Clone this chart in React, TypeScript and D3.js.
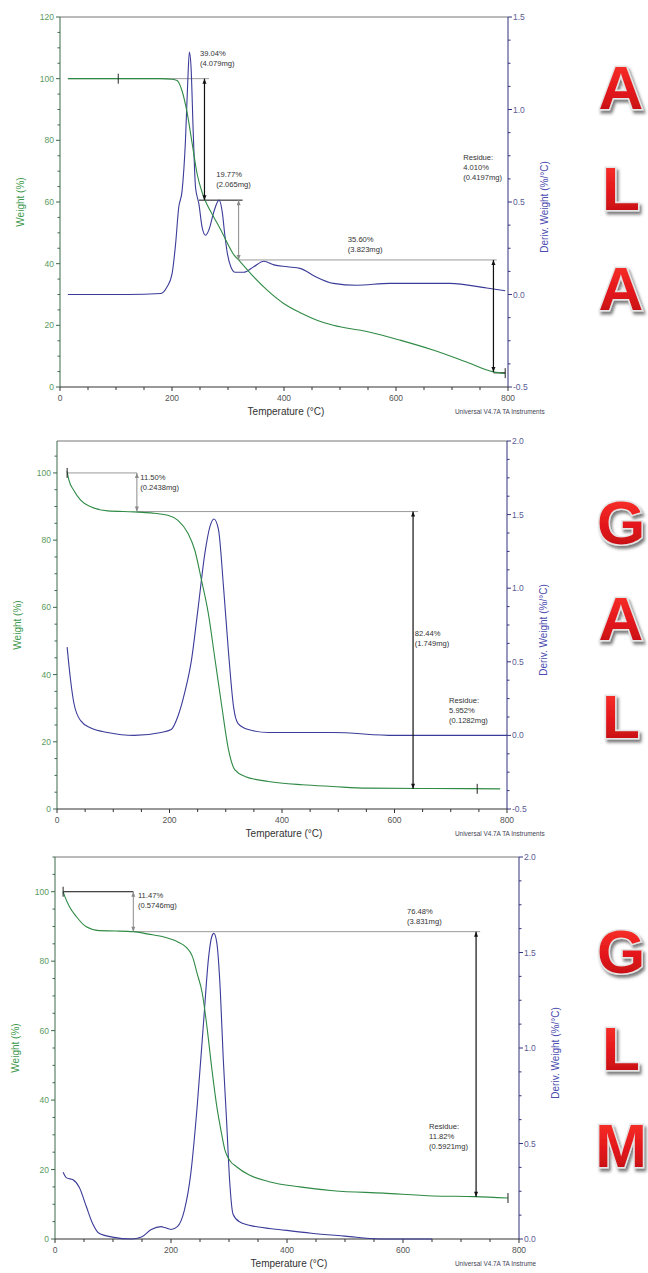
import * as d3 from "d3";

type Pt = [number, number];

// ---- ALA: weight (%) and derivative (%/°C) vs temperature (°C)
const alaWeight: Pt[] = [
  [14, 100], [60, 100], [120, 100], [180, 100], [200, 99.8], [209, 99.4], [218, 96], [227, 89],
  [236, 79], [245, 69], [254, 63], [263, 59], [275, 55], [287, 51], [299, 46.6], [310, 43],
  [322, 40.6], [346, 35.7], [370, 31.4], [400, 27], [430, 24], [460, 21.6], [488, 20],
  [548, 18], [607, 15.2], [666, 12], [726, 8.1], [774, 4.9], [795, 4.4],
];
const alaDeriv: Pt[] = [
  [14, 0], [60, 0], [120, 0], [180, 0.005], [191, 0.04], [200, 0.11], [206, 0.26], [212, 0.47],
  [218, 0.56], [224, 0.83], [228, 1.14], [231, 1.31], [234, 1.23], [238, 0.87], [242, 0.58],
  [248, 0.49], [254, 0.36], [260, 0.32], [266, 0.35], [275, 0.45], [284, 0.51], [290, 0.44],
  [294, 0.33], [299, 0.22], [305, 0.15], [313, 0.12], [328, 0.12], [346, 0.15], [364, 0.18],
  [382, 0.16], [406, 0.15], [430, 0.14], [454, 0.1], [488, 0.06], [530, 0.05], [589, 0.06],
  [696, 0.06], [762, 0.035], [795, 0.02],
];

// ---- GAL
const galWeight: Pt[] = [
  [18, 100.5], [21, 98], [30, 94.8], [42, 91.9], [60, 89.9], [90, 88.7], [137, 88.4], [167, 88.1],
  [197, 87.4], [215, 85.9], [233, 82], [245, 77], [257, 68], [269, 58.2], [281, 44.4], [293, 30.5],
  [305, 17.6], [316, 11.7], [334, 9.7], [376, 8.2], [436, 7.2], [490, 6.7], [551, 6.2], [669, 6.1],
  [788, 6.0],
];
const galDeriv: Pt[] = [
  [18, 0.6], [24, 0.38], [30, 0.22], [42, 0.1], [60, 0.05], [90, 0.02], [137, 0], [185, 0.02],
  [203, 0.04], [215, 0.13], [227, 0.29], [239, 0.51], [251, 0.87], [263, 1.24], [272, 1.42],
  [279, 1.47], [287, 1.4], [296, 1.01], [305, 0.56], [314, 0.19], [322, 0.08], [340, 0.04],
  [376, 0.02], [490, 0.02], [600, 0], [800, 0],
];

// ---- GLM
const glmWeight: Pt[] = [
  [14, 100], [17, 98.6], [25, 95.7], [37, 92.8], [54, 89.9], [76, 88.8], [104, 88.7], [135, 88.5],
  [161, 87.8], [189, 86.9], [211, 85.6], [225, 84.2], [237, 81.3], [245, 76.5], [254, 70.7],
  [262, 61.1], [270, 49.6], [279, 38.1], [286, 31.4], [293, 25.6], [301, 22.7], [313, 20.8],
  [335, 18.4], [369, 16.5], [422, 15], [480, 13.9], [566, 13.2], [652, 12.4], [724, 12.2], [781, 11.8],
];
const glmDeriv: Pt[] = [
  [14, 0.35], [20, 0.32], [31, 0.31], [42, 0.27], [54, 0.17], [65, 0.08], [76, 0.03], [99, 0.01],
  [132, 0], [149, 0.01], [166, 0.05], [183, 0.065], [189, 0.06], [200, 0.05], [211, 0.065],
  [223, 0.15], [234, 0.34], [245, 0.69], [256, 1.13], [265, 1.48], [270, 1.58], [274, 1.6],
  [279, 1.55], [285, 1.3], [290, 0.95], [296, 0.61], [301, 0.31], [307, 0.13], [318, 0.09],
  [346, 0.065], [386, 0.05], [442, 0.03], [500, 0.015], [560, 0], [650, 0],
];

// annotation values: levels [t0, t1, weight, dark], arrows [t, wTop, wBottom, dark], marks [t, weight]
type Level = [number, number, number, boolean];
type Arrow = [number, number, number, boolean];
type Note = { t: number; w: number; lines: string[] };

const alaLevels: Level[] = [[14, 266, 100, false], [248, 326, 60.6, true], [319, 780, 41.2, false], [774, 795, 4.6, true]];
const alaArrows: Arrow[] = [[258, 100, 60.6, true], [319, 60.6, 41.2, false], [774, 41.2, 4.9, true]];
const alaMarks: Pt[] = [[104, 100], [795, 4.5]];
const alaNotes: Note[] = [
  { t: 250, w: 107.5, lines: ["39.04%", "(4.079mg)"] },
  { t: 279, w: 68, lines: ["19.77%", "(2.065mg)"] },
  { t: 514, w: 47, lines: ["35.60%", "(3.823mg)"] },
  { t: 720, w: 73.5, lines: ["Residue:", "4.010%", "(0.4197mg)"] },
];

const galLevels: Level[] = [[18, 142, 100, false], [142, 642, 88.5, false]];
const galArrows: Arrow[] = [[142, 100, 88.5, false], [633, 88.5, 6.0, true]];
const galMarks: Pt[] = [[18, 100], [747, 6.0]];
const galNotes: Note[] = [
  { t: 148, w: 98, lines: ["11.50%", "(0.2438mg)"] },
  { t: 636, w: 51.5, lines: ["82.44%", "(1.749mg)"] },
  { t: 697, w: 31.5, lines: ["Residue:", "5.952%", "(0.1282mg)"] },
];

const glmLevels: Level[] = [[14, 135, 100, true], [135, 733, 88.5, false]];
const glmArrows: Arrow[] = [[135, 100, 88.5, false], [726, 88.5, 12.2, true]];
const glmMarks: Pt[] = [[14, 100], [781, 11.8]];
const glmNotes: Note[] = [
  { t: 143, w: 98.2, lines: ["11.47%", "(0.5746mg)"] },
  { t: 607, w: 93.5, lines: ["76.48%", "(3.831mg)"] },
  { t: 645, w: 31.6, lines: ["Residue:", "11.82%", "(0.5921mg)"] },
];

const tempTicks = [0, 200, 400, 600, 800];
const weightTicksA = [0, 20, 40, 60, 80, 100, 120];
const weightTicksB = [0, 20, 40, 60, 80, 100];
const derivTicksA = [-0.5, 0, 0.5, 1.0, 1.5];
const derivTicksB = [-0.5, 0, 0.5, 1.0, 1.5, 2.0];
const derivTicksC = [0, 0.5, 1.0, 1.5, 2.0];

const GREEN = "#2f8a45";
const NAVY = "#3b3b99";
const FONT = "'Liberation Sans', Arial, sans-serif";

type PanelProps = {
  left: number; right: number; top: number; bottom: number;
  wMax: number; wTicks: number[];
  dMin: number; dMax: number; dTicks: number[];
  weight: Pt[]; deriv: Pt[];
  levels: Level[]; arrows: Arrow[]; marks: Pt[]; notes: Note[];
  letters: string[]; letterY: number[];
  footer: string;
};

function Panel(p: PanelProps) {
  const x = d3.scaleLinear().domain([0, 800]).range([p.left, p.right]);
  const yw = d3.scaleLinear().domain([0, p.wMax]).range([p.bottom, p.top]);
  const yd = d3.scaleLinear().domain([p.dMin, p.dMax]).range([p.bottom, p.top]);
  const wLine = d3.line<Pt>().x(d => x(d[0])).y(d => yw(d[1])).curve(d3.curveMonotoneX);
  const dLine = d3.line<Pt>().x(d => x(d[0])).y(d => yd(d[1])).curve(d3.curveMonotoneX);

  const wMinor = d3.range(0, p.wMax + 0.01, 5);
  const tMinor = d3.range(0, 801, 50);
  const dMinor = d3.range(p.dMin, p.dMax + 0.001, 0.125);
  const midY = (p.top + p.bottom) / 2;

  return (
    <g fontFamily={FONT}>
      {/* frame */}
      <line x1={p.left} x2={p.right} y1={p.top} y2={p.top} stroke="#777" strokeWidth={1} />
      <line x1={p.left} x2={p.left} y1={p.top} y2={p.bottom} stroke="#3d6b4a" strokeWidth={1} />
      <line x1={p.right} x2={p.right} y1={p.top} y2={p.bottom} stroke="#33337f" strokeWidth={1} />
      <line x1={p.left} x2={p.right} y1={p.bottom} y2={p.bottom} stroke="#333" strokeWidth={1} />

      {/* left axis */}
      {wMinor.map(v => (
        <line key={"wm" + v} x1={p.left - (v % 20 === 0 ? 4 : 2.5)} x2={p.left} y1={yw(v)} y2={yw(v)} stroke="#3d6b4a" />
      ))}
      {p.wTicks.map(v => (
        <text key={"wt" + v} x={p.left - 6} y={yw(v) + 3} fontSize={8.5} textAnchor="end" fill="#5a9a62">{v}</text>
      ))}
      <text transform={`translate(${p.left - 36},${midY}) rotate(-90)`} fontSize={10} textAnchor="middle" fill="#3f9a4f">Weight (%)</text>

      {/* right axis */}
      {dMinor.map((v, i) => (
        <line key={"dm" + i} x1={p.right} x2={p.right + (i % 4 === 0 ? 4 : 2.5)} y1={yd(v)} y2={yd(v)} stroke="#33337f" />
      ))}
      {p.dTicks.map(v => (
        <text key={"dt" + v} x={p.right + 5} y={yd(v) + 3} fontSize={8.5} fill="#5a5a96">{v.toFixed(1)}</text>
      ))}
      <text transform={`translate(${p.right + 40},${midY + 5}) rotate(-90)`} fontSize={10} textAnchor="middle" fill="#4b4bb0">Deriv. Weight (%/°C)</text>

      {/* bottom axis */}
      {tMinor.map(v => (
        <line key={"tm" + v} x1={x(v)} x2={x(v)} y1={p.bottom} y2={p.bottom + (v % 200 === 0 ? 4 : 3)} stroke="#333" />
      ))}
      {tempTicks.map(v => (
        <text key={"tt" + v} x={x(v)} y={p.bottom + 14} fontSize={8.5} textAnchor="middle" fill="#555">{v}</text>
      ))}
      <text x={(p.left + p.right) / 2 + 2} y={p.bottom + 28} fontSize={10} textAnchor="middle" fill="#333">Temperature (°C)</text>
      <text x={455} y={p.bottom + 27} fontSize={6.4} fill="#445">{p.footer}</text>

      {/* annotation levels */}
      {p.levels.map((l, i) => (
        <line key={"lv" + i} x1={x(l[0])} x2={x(l[1])} y1={yw(l[2])} y2={yw(l[2])} stroke={l[3] ? "#111" : "#9a9a9a"} strokeWidth={1} />
      ))}

      {/* curves */}
      <path d={dLine(p.deriv) || ""} fill="none" stroke={NAVY} strokeWidth={1.1} />
      <path d={wLine(p.weight) || ""} fill="none" stroke={GREEN} strokeWidth={1.1} />

      {/* arrows */}
      {p.arrows.map((a, i) => {
        const ax = x(a[0]);
        const y1 = yw(a[1]);
        const y2 = yw(a[2]);
        const c = a[3] ? "#111" : "#8a8a8a";
        return (
          <g key={"ar" + i}>
            <line x1={ax} x2={ax} y1={y1} y2={y2} stroke={c} strokeWidth={a[3] ? 1.2 : 1} />
            <path d={`M${ax},${y1} l-2,5 l4,0 z`} fill={c} />
            <path d={`M${ax},${y2} l-2,-5 l4,0 z`} fill={c} />
          </g>
        );
      })}
      {p.marks.map((m, i) => (
        <line key={"mk" + i} x1={x(m[0])} x2={x(m[0])} y1={yw(m[1]) - 5} y2={yw(m[1]) + 5} stroke="#222" strokeWidth={1} />
      ))}

      {/* notes */}
      {p.notes.map((n, i) => (
        <text key={"nt" + i} x={x(n.t)} y={yw(n.w)} fontSize={7.6} fill="#333">
          {n.lines.map((s, j) => (
            <tspan key={j} x={x(n.t)} dy={j === 0 ? 0 : 10}>{s}</tspan>
          ))}
        </text>
      ))}

      {/* sample letters */}
      {p.letters.map((s, i) => (
        <text key={"lt" + i} x={621} y={p.letterY[i]} fontSize={62} fontWeight="bold" textAnchor="middle"
          fill="url(#redGrad)" stroke="#e4e4e4" strokeWidth={3} paintOrder="stroke" filter="url(#shadow)"
          fontFamily="'Liberation Sans', Arial, sans-serif">{s}</text>
      ))}
    </g>
  );
}

export default function App() {
  return (
    <svg width={648} height={1273} style={{ position: "absolute", left: 0, top: 0, background: "#fff" }}>
      <defs>
        <linearGradient id="redGrad" x1="0" y1="0" x2="0" y2="1">
          <stop offset="0" stopColor="#ff3a2e" />
          <stop offset="0.55" stopColor="#e3161b" />
          <stop offset="1" stopColor="#b80d14" />
        </linearGradient>
        <filter id="shadow" x="-20%" y="-20%" width="150%" height="150%">
          <feDropShadow dx="2" dy="3" stdDeviation="1.5" floodColor="#444" floodOpacity="0.7" />
        </filter>
      </defs>
      <rect width={648} height={1273} fill="#fff" />
      <Panel left={60} right={508} top={17} bottom={387} wMax={120} wTicks={weightTicksA}
        dMin={-0.5} dMax={1.5} dTicks={derivTicksA} weight={alaWeight} deriv={alaDeriv}
        levels={alaLevels} arrows={alaArrows} marks={alaMarks} notes={alaNotes}
        letters={["A", "L", "A"]} letterY={[109, 210, 310]} footer="Universal V4.7A TA Instruments" />
      <Panel left={57} right={507} top={441} bottom={809} wMax={109.5} wTicks={weightTicksB}
        dMin={-0.5} dMax={2.0} dTicks={derivTicksB} weight={galWeight} deriv={galDeriv}
        levels={galLevels} arrows={galArrows} marks={galMarks} notes={galNotes}
        letters={["G", "A", "L"]} letterY={[544, 640, 738]} footer="Universal V4.7A TA Instruments" />
      <Panel left={55} right={519} top={857} bottom={1239} wMax={110} wTicks={weightTicksB}
        dMin={0} dMax={2.0} dTicks={derivTicksC} weight={glmWeight} deriv={glmDeriv}
        levels={glmLevels} arrows={glmArrows} marks={glmMarks} notes={glmNotes}
        letters={["G", "L", "M"]} letterY={[973, 1070, 1167]} footer="Universal V4.7A TA Instrume" />
    </svg>
  );
}
